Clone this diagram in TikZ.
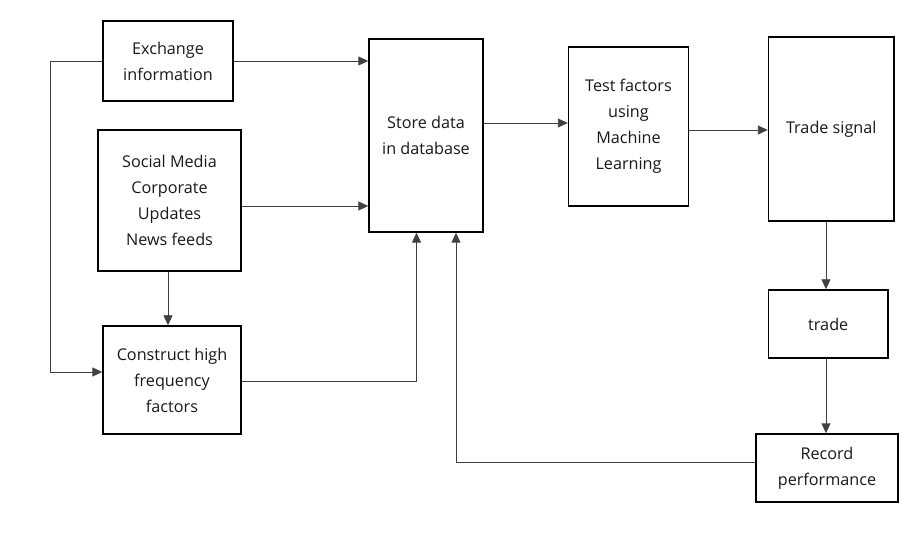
\documentclass[tikz,border=0pt]{standalone}
\usepackage{fontspec}
\setmainfont{Open Sans}
\usetikzlibrary{arrows.meta}
\begin{document}
\begin{tikzpicture}[x=1pt,y=-1pt,
  box/.style={draw=black,line width=1.4pt,align=center,inner sep=0pt,
    font=\fontsize{16.2}{26}\selectfont,text=black!90},
  conn/.style={line width=0.9pt,draw=black!75,-{Triangle[length=10pt,width=9pt]}}]
\useasboundingbox[fill=white] (0,0) rectangle (919,556);
\node[box,minimum width=130,minimum height=80] (ex) at (168,61) {Exchange\\information};
\node[box,minimum width=143,minimum height=141] (soc) at (169.5,200.5) {Social Media\\Corporate\\Updates\\News feeds};
\node[box,minimum width=138,minimum height=108] (con) at (172,380) {Construct high\\frequency\\factors};
\node[box,minimum width=114,minimum height=193] (db) at (426,135.5) {Store data\\in database};
\node[box,minimum width=120,minimum height=159] (test) at (628.5,126.5) {Test factors\\using\\Machine\\Learning};
\node[box,minimum width=125.5,minimum height=184] (sig) at (831.25,129) {Trade signal};
\node[box,minimum width=119.5,minimum height=68] (trade) at (828.25,324) {trade};
\node[box,minimum width=142,minimum height=68] (rec) at (827,468) {Record\\performance};
\coordinate (lft) at (50,61);
\coordinate (lfb) at (50,372);
\draw[conn] (ex.east) -- (ex.east -| db.west);
\draw[conn] (soc.east |- 0,206) -- (db.west |- 0,206);
\draw[conn] (soc.south -| 168,0) -- (con.north -| 168,0);
\draw[conn] (ex.west) -- (lft) -- (lfb) -- (con.west |- lfb);
\draw[conn] (con.east |- 0,381) -| (db.south -| 416.5,0);
\draw[conn] (rec.west |- 0,462) -| (db.south -| 456,0);
\draw[conn] (db.east |- 0,123) -- (test.west |- 0,123);
\draw[conn] (test.east |- 0,130) -- (sig.west |- 0,130);
\draw[conn] (sig.south -| 826,0) -- (trade.north -| 826,0);
\draw[conn] (trade.south -| 826,0) -- (rec.north -| 826,0);
\end{tikzpicture}
\end{document}
